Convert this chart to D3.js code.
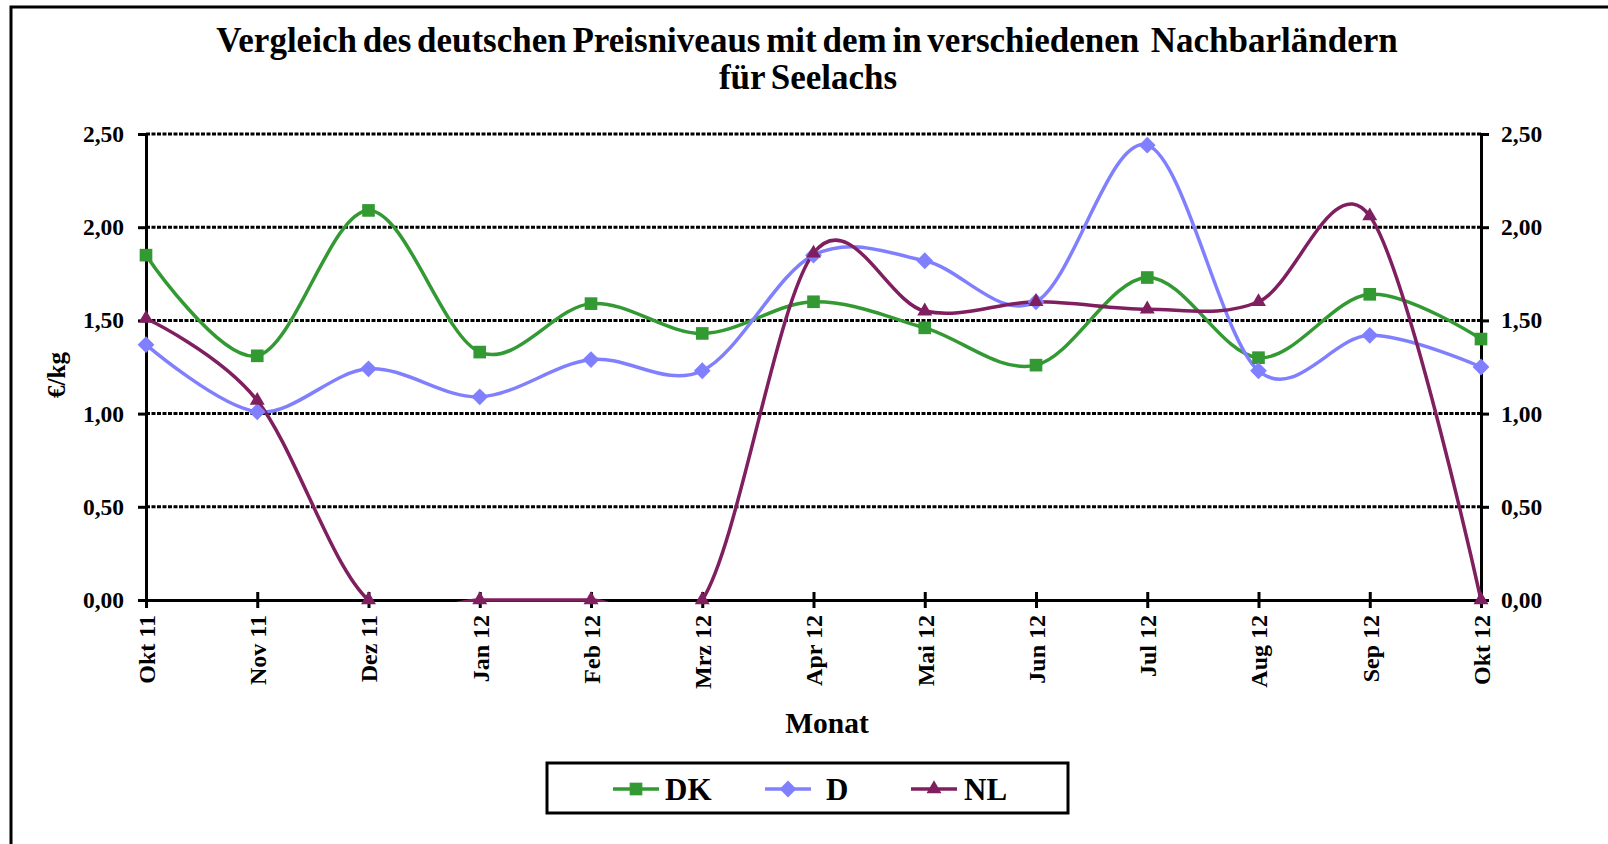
<!DOCTYPE html>
<html><head><meta charset="utf-8">
<script src="https://cdn.jsdelivr.net/npm/d3@7"></script>
<style>
html,body{margin:0;padding:0;background:#fff;}
svg text{font-family:"Liberation Serif","Times New Roman",serif;font-weight:bold;fill:#000;}
</style></head>
<body>
<svg id="c" width="1608" height="844"></svg>
<script>
const months = ["Okt 11","Nov 11","Dez 11","Jan 12","Feb 12","Mrz 12","Apr 12","Mai 12","Jun 12","Jul 12","Aug 12","Sep 12","Okt 12"];
const seriesDK = [1.85,1.31,2.09,1.33,1.59,1.43,1.60,1.46,1.26,1.73,1.30,1.64,1.40];
const seriesD  = [1.37,1.01,1.24,1.09,1.29,1.23,1.85,1.82,1.60,2.44,1.23,1.42,1.25];
const seriesNL = [1.51,1.07,0,0,0,0,1.86,1.55,1.60,1.56,1.60,2.06,0];
const yTicks = [0,0.5,1.0,1.5,2.0,2.5];
const titleLines = ["Vergleich des deutschen Preisniveaus mit dem in verschiedenen  Nachbarländern","für Seelachs"];

const series = [
  {name:"DK", values:seriesDK, color:"#339933", marker:"square"},
  {name:"D", values:seriesD, color:"#8080FF", marker:"diamond"},
  {name:"NL", values:seriesNL, color:"#7F1F5F", marker:"triangle"}
];

const svg = d3.select("#c");
const X0=146, X1=1481, YT=134, YB=600;
const x = d3.scalePoint().domain(months).range([X0,X1]);
const y = d3.scaleLinear().domain([0,2.5]).range([YB,YT]);
const fmt = v => d3.format(".2f")(v).replace(".",",");

// outer frame
svg.append("rect").attr("x",11).attr("y",7).attr("width",1700).attr("height",900)
  .attr("fill","none").attr("stroke","#000").attr("stroke-width",3);

// title
svg.append("text").attr("x",807).attr("y",52).attr("text-anchor","middle")
  .style("font-size","35px").style("white-space","pre").style("word-spacing","-3px").text(titleLines[0]);
svg.append("text").attr("x",808).attr("y",89).attr("text-anchor","middle")
  .style("font-size","35px").style("word-spacing","-3px").text(titleLines[1]);

// gridlines
svg.append("g").selectAll("line").data(yTicks.filter(d=>d>0)).join("line")
  .attr("x1",X0).attr("x2",X1).attr("y1",d=>y(d)).attr("y2",d=>y(d))
  .attr("stroke","#000").attr("stroke-width",3).attr("stroke-dasharray","4,1.5");

// left axis
const la = svg.append("g").attr("transform",`translate(${X0},0)`)
  .call(d3.axisLeft(y).tickValues(yTicks).tickFormat(fmt).tickSize(8).tickPadding(14));
la.select(".domain").attr("stroke-width",3);
la.selectAll(".tick line").attr("stroke-width",3);
la.selectAll("text").style("font-size","23.5px");

const ra = svg.append("g").attr("transform",`translate(${X1},0)`)
  .call(d3.axisRight(y).tickValues(yTicks).tickFormat(fmt).tickSize(8).tickPadding(12));
ra.select(".domain").attr("stroke-width",3);
ra.selectAll(".tick line").attr("stroke-width",3);
ra.selectAll("text").style("font-size","23.5px");

// x axis
const xa = svg.append("g").attr("transform",`translate(0,${YB})`)
  .call(d3.axisBottom(x).tickSize(0).tickPadding(0));
xa.select(".domain").attr("stroke-width",3);
xa.selectAll(".tick line").remove();
xa.selectAll(".tick").append("line").attr("y1",-8).attr("y2",8).attr("stroke","#000").attr("stroke-width",3);
xa.selectAll(".tick text").attr("transform","rotate(-90)").attr("x",-15).attr("y",0).attr("dy","0.35em")
  .attr("text-anchor","end").style("font-size","24px");

// axis titles
svg.append("text").attr("x",827).attr("y",733).attr("text-anchor","middle").style("font-size","29.5px").text("Monat");
svg.append("text").attr("transform","translate(65,375) rotate(-90)").attr("text-anchor","middle").style("font-size","25px").text("€/kg");

// clip
svg.append("clipPath").attr("id","pc").append("rect").attr("x",X0-20).attr("y",YT-20).attr("width",X1-X0+40).attr("height",YB-YT+22);

const line = d3.line().x((d,i)=>x(months[i])).y(d=>y(d)).curve(d3.curveCardinal.tension(0));

const sym = {square:d3.symbolSquare, diamond:d3.symbolDiamond2, triangle:d3.symbolTriangle2};
const symSize = {square:160, diamond:180, triangle:160};

series.forEach(s=>{
  svg.append("path").datum(s.values).attr("d",line).attr("fill","none")
    .attr("stroke",s.color).attr("stroke-width",3.5).attr("clip-path","url(#pc)");
});
series.forEach(s=>{
  svg.append("g").selectAll("path").data(s.values).join("path")
    .attr("transform",(d,i)=>`translate(${x(months[i])},${y(d)})`)
    .attr("d",d3.symbol().type(sym[s.marker]).size(symSize[s.marker]))
    .attr("fill",s.color);
});

// legend
const lg = svg.append("g");
lg.append("rect").attr("x",547).attr("y",763).attr("width",521).attr("height",50)
  .attr("fill","#fff").attr("stroke","#000").attr("stroke-width",3);
const legX = [613,765,911];
const legTX = [665,826,964];
series.forEach((s,i)=>{
  const g = lg.append("g").attr("transform",`translate(${legX[i]},789)`);
  g.append("line").attr("x1",0).attr("x2",46).attr("stroke",s.color).attr("stroke-width",3.5);
  g.append("path").attr("transform","translate(23,0)").attr("d",d3.symbol().type(sym[s.marker]).size(symSize[s.marker])).attr("fill",s.color);
  lg.append("text").attr("x",legTX[i]).attr("y",789).attr("dy","0.35em").style("font-size","31px").text(s.name);
});
</script>
</body></html>
